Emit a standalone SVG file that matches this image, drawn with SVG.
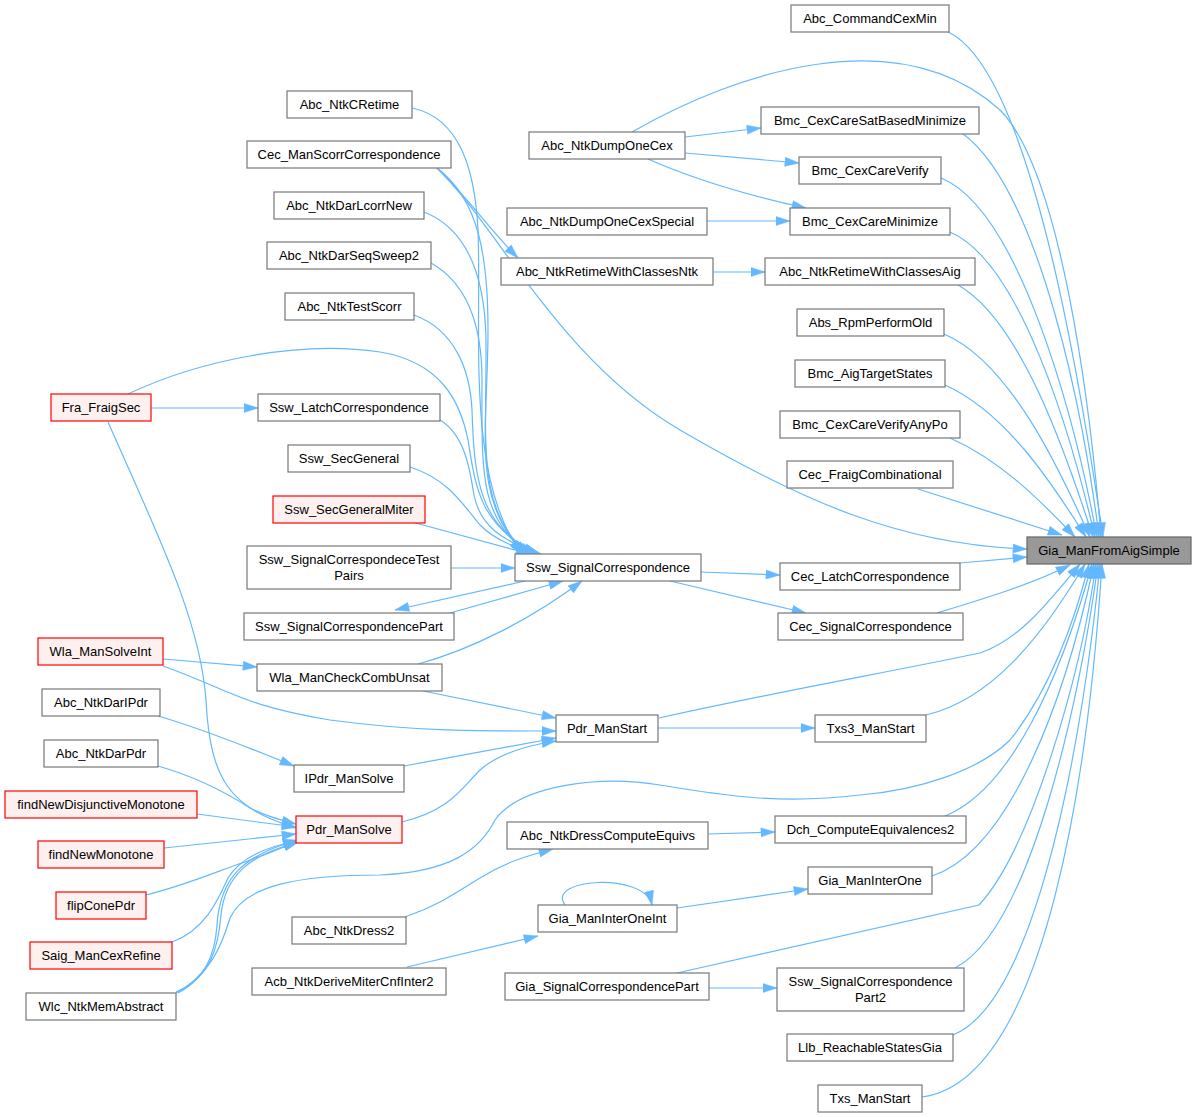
<svg xmlns="http://www.w3.org/2000/svg" width="1192" height="1117" viewBox="0 0 1192 1117">
<style>
.n rect{fill:#ffffff;stroke:#777777;stroke-width:1.2}
.r rect{fill:#fff0f0;stroke:#ff0000;stroke-width:1.2}
.g rect{fill:#999999;stroke:#666666;stroke-width:1.2}
text{font-family:"Liberation Sans",Arial,sans-serif;font-size:13px;fill:#000;text-anchor:middle}
#edges path{fill:none;stroke:#63b8ff;stroke-width:1.2;marker-end:url(#ah)}
</style>
<defs>
<marker id="ah" markerUnits="userSpaceOnUse" markerWidth="15" markerHeight="10" refX="14.5" refY="5" orient="auto">
<path d="M0.5,0.5 L14.5,5 L0.5,9.5 z" fill="#63b8ff" stroke="#63b8ff" stroke-width="0.5"/>
</marker>
</defs>
<rect width="1192" height="1117" fill="#ffffff"/>
<g id="edges">
<path d="M948,32 C1030,70 1080,380 1103,537"/>
<path d="M632,132 C740,70 900,20 1000,110 C1060,170 1090,400 1101,537"/>
<path d="M962,133 C1040,190 1085,420 1099,537"/>
<path d="M941,178 C1020,210 1075,420 1097,537"/>
<path d="M950,232 C1020,262 1070,430 1095,537"/>
<path d="M958,285 C1020,320 1065,450 1093,537"/>
<path d="M944,334 C1010,362 1060,470 1090,537"/>
<path d="M945,385 C1005,412 1050,480 1086,537"/>
<path d="M950,438 C1000,460 1040,500 1075,537"/>
<path d="M918,489 L1062,535"/>
<path d="M437,168 C500,230 560,360 680,430 C800,500 900,545 1027,549"/>
<path d="M960,563 L1027,557"/>
<path d="M937,613 C980,600 1030,585 1070,565"/>
<path d="M659,718 C760,695 900,670 980,653 C1020,640 1050,600 1080,564"/>
<path d="M926,715 C990,700 1040,640 1085,564"/>
<path d="M176,993 C210,975 222,945 230,918 C245,885 300,875 380,875 C450,872 480,850 495,820 C520,785 600,775 660,785 C720,795 780,805 860,795 C920,790 980,770 1010,740 C1050,690 1075,620 1089,564"/>
<path d="M945,816 C1010,790 1060,680 1092,564"/>
<path d="M932,876 C1010,850 1065,700 1094,564"/>
<path d="M677,973 L979,905 C1030,850 1080,680 1096,564"/>
<path d="M955,968 C1030,930 1080,700 1098,564"/>
<path d="M953,1035 C1040,1000 1085,720 1100,564"/>
<path d="M922,1097 C1050,1080 1090,750 1102,564"/>
<path d="M685,137 L761,128"/>
<path d="M685,153 L799,163"/>
<path d="M648,159 C700,182 760,198 806,208"/>
<path d="M707,221 L790,221"/>
<path d="M713,272 L765,272"/>
<path d="M437,168 C470,200 488,228 518,258"/>
<path d="M412,108 C460,118 475,170 478,230 C482,330 465,480 522,554"/>
<path d="M437,168 C480,200 488,260 488,330 C488,430 470,500 525,554"/>
<path d="M424,212 C470,230 485,280 486,340 C487,440 475,510 528,554"/>
<path d="M431,263 C470,285 482,330 482,380 C482,470 478,520 531,554"/>
<path d="M414,315 C455,330 470,370 472,410 C474,480 480,525 534,554"/>
<path d="M128,394 C200,360 300,340 380,352 C440,362 460,400 468,440 C476,490 480,525 537,554"/>
<path d="M440,420 C465,435 470,470 474,495 C480,525 500,540 540,554"/>
<path d="M410,467 C445,478 460,500 480,525 C495,540 515,548 543,555"/>
<path d="M412,522 L530,554"/>
<path d="M451,568 L515,568"/>
<path d="M450,613 L563,581"/>
<path d="M525,581 L395,610"/>
<path d="M418,664 C470,650 530,620 582,581"/>
<path d="M701,572 L780,575"/>
<path d="M670,581 L806,613"/>
<path d="M151,408 L258,408"/>
<path d="M108,422 C160,540 200,620 206,700 C210,780 230,808 296,828"/>
<path d="M163,659 L257,667"/>
<path d="M163,666 C230,690 240,705 330,720 C420,732 480,731 556,731"/>
<path d="M423,691 L556,718"/>
<path d="M158,716 C200,728 250,748 294,766"/>
<path d="M404,766 L556,738"/>
<path d="M402,822 C450,810 460,790 480,770 C500,752 530,745 556,741"/>
<path d="M658,728 L815,728"/>
<path d="M158,766 C200,778 230,795 250,808 C265,816 280,820 296,824"/>
<path d="M197,814 L296,827"/>
<path d="M164,848 L296,834"/>
<path d="M146,895 C190,884 220,870 245,862 C265,855 280,848 298,842"/>
<path d="M172,942 C205,930 218,900 228,878 C240,858 265,847 297,841"/>
<path d="M176,992 C205,980 215,955 217,925 C220,880 240,856 298,840"/>
<path d="M178,993 C210,975 218,950 221,915 C225,875 250,855 298,842"/>
<path d="M405,917 C440,905 460,890 480,878 C505,862 530,855 553,849"/>
<path d="M708,834 L775,832"/>
<path d="M407,967 L538,936"/>
<path d="M565,905 C545,878 645,872 652,905"/>
<path d="M677,908 L808,889"/>
<path d="M709,988 L777,988"/>
</g>
<g id="Abc_CommandCexMin" class="n"><rect x="791" y="5" width="158" height="27"/><text x="870" y="23">Abc_CommandCexMin</text></g>
<g id="Abc_NtkCRetime" class="n"><rect x="287" y="91" width="125" height="27"/><text x="349.5" y="109">Abc_NtkCRetime</text></g>
<g id="Bmc_CexCareSatBasedMinimize" class="n"><rect x="761" y="107" width="218" height="27"/><text x="870" y="125">Bmc_CexCareSatBasedMinimize</text></g>
<g id="Abc_NtkDumpOneCex" class="n"><rect x="529" y="132" width="156" height="27"/><text x="607" y="150">Abc_NtkDumpOneCex</text></g>
<g id="Cec_ManScorrCorrespondence" class="n"><rect x="247" y="141" width="204" height="27"/><text x="349" y="159">Cec_ManScorrCorrespondence</text></g>
<g id="Bmc_CexCareVerify" class="n"><rect x="799" y="157" width="142" height="27"/><text x="870" y="175">Bmc_CexCareVerify</text></g>
<g id="Abc_NtkDarLcorrNew" class="n"><rect x="274" y="192" width="150" height="27"/><text x="349" y="210">Abc_NtkDarLcorrNew</text></g>
<g id="Abc_NtkDumpOneCexSpecial" class="n"><rect x="507" y="208" width="200" height="27"/><text x="607" y="226">Abc_NtkDumpOneCexSpecial</text></g>
<g id="Bmc_CexCareMinimize" class="n"><rect x="790" y="208" width="160" height="27"/><text x="870" y="226">Bmc_CexCareMinimize</text></g>
<g id="Abc_NtkDarSeqSweep2" class="n"><rect x="267" y="242" width="164" height="27"/><text x="349" y="260">Abc_NtkDarSeqSweep2</text></g>
<g id="Abc_NtkRetimeWithClassesNtk" class="n"><rect x="501" y="258" width="212" height="27"/><text x="607" y="276">Abc_NtkRetimeWithClassesNtk</text></g>
<g id="Abc_NtkRetimeWithClassesAig" class="n"><rect x="765" y="258" width="210" height="27"/><text x="870" y="276">Abc_NtkRetimeWithClassesAig</text></g>
<g id="Abc_NtkTestScorr" class="n"><rect x="285" y="293" width="129" height="27"/><text x="349.5" y="311">Abc_NtkTestScorr</text></g>
<g id="Abs_RpmPerformOld" class="n"><rect x="797" y="309" width="147" height="27"/><text x="870.5" y="327">Abs_RpmPerformOld</text></g>
<g id="Bmc_AigTargetStates" class="n"><rect x="795" y="360" width="150" height="27"/><text x="870" y="378">Bmc_AigTargetStates</text></g>
<g id="Fra_FraigSec" class="r"><rect x="51" y="394" width="100" height="27"/><text x="101" y="412">Fra_FraigSec</text></g>
<g id="Ssw_LatchCorrespondence" class="n"><rect x="258" y="394" width="182" height="27"/><text x="349" y="412">Ssw_LatchCorrespondence</text></g>
<g id="Bmc_CexCareVerifyAnyPo" class="n"><rect x="780" y="411" width="180" height="27"/><text x="870" y="429">Bmc_CexCareVerifyAnyPo</text></g>
<g id="Ssw_SecGeneral" class="n"><rect x="288" y="445" width="122" height="27"/><text x="349" y="463">Ssw_SecGeneral</text></g>
<g id="Cec_FraigCombinational" class="n"><rect x="787" y="461" width="166" height="27"/><text x="870" y="479">Cec_FraigCombinational</text></g>
<g id="Ssw_SecGeneralMiter" class="r"><rect x="273" y="496" width="152" height="27"/><text x="349" y="514">Ssw_SecGeneralMiter</text></g>
<g id="Gia_ManFromAigSimple" class="g"><rect x="1027" y="537" width="164" height="27"/><text x="1109" y="555">Gia_ManFromAigSimple</text></g>
<g id="Ssw_SignalCorrespondeceTestPairs" class="n"><rect x="247" y="546" width="204" height="43"/><text x="349" y="564">Ssw_SignalCorrespondeceTest</text><text x="349" y="580">Pairs</text></g>
<g id="Ssw_SignalCorrespondence" class="n"><rect x="515" y="554" width="186" height="27"/><text x="608" y="572">Ssw_SignalCorrespondence</text></g>
<g id="Cec_LatchCorrespondence" class="n"><rect x="780" y="563" width="180" height="27"/><text x="870" y="581">Cec_LatchCorrespondence</text></g>
<g id="Ssw_SignalCorrespondencePart" class="n"><rect x="244" y="613" width="210" height="27"/><text x="349" y="631">Ssw_SignalCorrespondencePart</text></g>
<g id="Cec_SignalCorrespondence" class="n"><rect x="778" y="613" width="185" height="27"/><text x="870.5" y="631">Cec_SignalCorrespondence</text></g>
<g id="Wla_ManSolveInt" class="r"><rect x="38" y="638" width="125" height="27"/><text x="100.5" y="656">Wla_ManSolveInt</text></g>
<g id="Wla_ManCheckCombUnsat" class="n"><rect x="257" y="664" width="185" height="27"/><text x="349.5" y="682">Wla_ManCheckCombUnsat</text></g>
<g id="Abc_NtkDarIPdr" class="n"><rect x="42" y="689" width="118" height="27"/><text x="101" y="707">Abc_NtkDarIPdr</text></g>
<g id="Pdr_ManStart" class="n"><rect x="556" y="715" width="102" height="27"/><text x="607" y="733">Pdr_ManStart</text></g>
<g id="Txs3_ManStart" class="n"><rect x="815" y="715" width="111" height="27"/><text x="870.5" y="733">Txs3_ManStart</text></g>
<g id="Abc_NtkDarPdr" class="n"><rect x="44" y="740" width="114" height="27"/><text x="101" y="758">Abc_NtkDarPdr</text></g>
<g id="IPdr_ManSolve" class="n"><rect x="294" y="765" width="110" height="27"/><text x="349" y="783">IPdr_ManSolve</text></g>
<g id="findNewDisjunctiveMonotone" class="r"><rect x="5" y="791" width="192" height="27"/><text x="101" y="809">findNewDisjunctiveMonotone</text></g>
<g id="Pdr_ManSolve" class="r"><rect x="296" y="816" width="106" height="27"/><text x="349" y="834">Pdr_ManSolve</text></g>
<g id="Dch_ComputeEquivalences2" class="n"><rect x="775" y="816" width="191" height="27"/><text x="870.5" y="834">Dch_ComputeEquivalences2</text></g>
<g id="Abc_NtkDressComputeEquivs" class="n"><rect x="507" y="822" width="201" height="27"/><text x="607.5" y="840">Abc_NtkDressComputeEquivs</text></g>
<g id="findNewMonotone" class="r"><rect x="38" y="841" width="126" height="27"/><text x="101" y="859">findNewMonotone</text></g>
<g id="Gia_ManInterOne" class="n"><rect x="808" y="867" width="124" height="27"/><text x="870" y="885">Gia_ManInterOne</text></g>
<g id="flipConePdr" class="r"><rect x="56" y="892" width="90" height="27"/><text x="101" y="910">flipConePdr</text></g>
<g id="Gia_ManInterOneInt" class="n"><rect x="538" y="905" width="139" height="27"/><text x="607.5" y="923">Gia_ManInterOneInt</text></g>
<g id="Abc_NtkDress2" class="n"><rect x="292" y="917" width="114" height="27"/><text x="349" y="935">Abc_NtkDress2</text></g>
<g id="Saig_ManCexRefine" class="r"><rect x="30" y="942" width="142" height="27"/><text x="101" y="960">Saig_ManCexRefine</text></g>
<g id="Acb_NtkDeriveMiterCnfInter2" class="n"><rect x="252" y="968" width="194" height="27"/><text x="349" y="986">Acb_NtkDeriveMiterCnfInter2</text></g>
<g id="Gia_SignalCorrespondencePart" class="n"><rect x="505" y="973" width="204" height="27"/><text x="607" y="991">Gia_SignalCorrespondencePart</text></g>
<g id="Ssw_SignalCorrespondencePart2" class="n"><rect x="777" y="968" width="187" height="43"/><text x="870.5" y="986">Ssw_SignalCorrespondence</text><text x="870.5" y="1002">Part2</text></g>
<g id="Wlc_NtkMemAbstract" class="n"><rect x="26" y="993" width="150" height="27"/><text x="101" y="1011">Wlc_NtkMemAbstract</text></g>
<g id="Llb_ReachableStatesGia" class="n"><rect x="787" y="1034" width="166" height="27"/><text x="870" y="1052">Llb_ReachableStatesGia</text></g>
<g id="Txs_ManStart" class="n"><rect x="818" y="1085" width="104" height="27"/><text x="870" y="1103">Txs_ManStart</text></g>
</svg>
